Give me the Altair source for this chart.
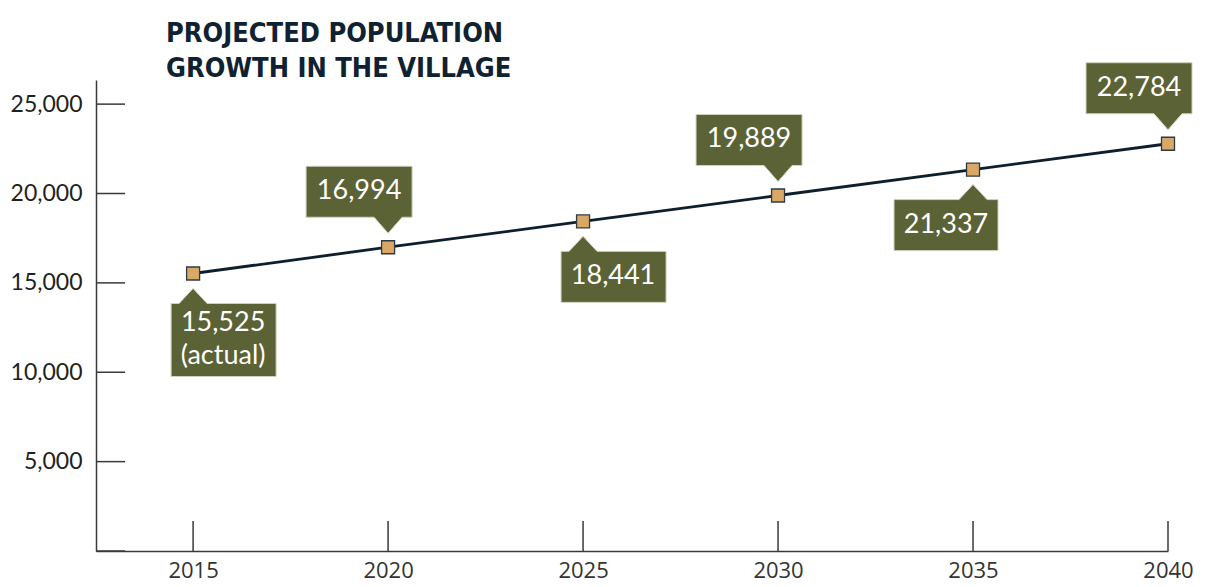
import altair as alt
import pandas as pd

# ---- data ----
years = [2015, 2020, 2025, 2030, 2035, 2040]
population = [15525, 16994, 18441, 19889, 21337, 22784]
labels = ["15,525\n(actual)", "16,994", "18,441", "19,889", "21,337", "22,784"]
y_tick_values = [0, 5000, 10000, 15000, 20000, 25000]
y_label_values = [5000, 10000, 15000, 20000, 25000]
x_tick_values = [2015, 2020, 2025, 2030, 2035, 2040]
title_lines = ["PROJECTED POPULATION", "GROWTH IN THE VILLAGE"]

df = pd.DataFrame({"year": years, "pop": population, "label": labels})

W, H = 1072, 471
xs = alt.Scale(domain=[2012.51, 2040], nice=False, zero=False)
ys = alt.Scale(domain=[0, 26350], nice=False)

OLIVE = "#5b6236"
AXIS = "#3a3a3a"

x_axis = alt.Axis(values=x_tick_values, labelExpr="format(datum.value, 'd')",
                  tickSize=0, title=None,
                  labelFont="Open Sans", labelFontSize=22, labelColor="#333333",
                  labelPadding=9, labelFlush=False, domainColor=AXIS,
                  domainWidth=1.5, grid=False)
y_axis = alt.Axis(values=y_label_values, labelExpr="format(datum.value, ',')",
                  tickSize=0, title=None,
                  labelFont="Lato", labelFontSize=23, labelColor="#231f20",
                  labelPadding=14, domainColor=AXIS, domainWidth=1.5, grid=False)

X = alt.X("year:Q", scale=xs, axis=x_axis)
Y = alt.Y("pop:Q", scale=ys, axis=y_axis)

base = alt.Chart(df)

line = base.mark_line(color="#0d1f2e", strokeWidth=2.8).encode(x=X, y=Y)

ytick = alt.Chart(pd.DataFrame({"pop": y_tick_values})).mark_rule(
    color=AXIS, strokeWidth=1.5).encode(y=Y, x=alt.value(0), x2=alt.value(29))
xtick = alt.Chart(pd.DataFrame({"year": x_tick_values})).mark_rule(
    color=AXIS, strokeWidth=1.5).encode(x=X, y=alt.value(H - 30), y2=alt.value(H))

squares = base.mark_square(size=169, filled=True, fill="#d9a766",
                           stroke="#2e3b47", strokeWidth=1.3, opacity=1).encode(x=X, y=Y)

# callout shapes (pixel units, size=4 -> scale 1)
BL1 = "M0,15 L14,30 L83,30 L83,81 L-22,81 L-22,30 L-14,30 Z"
BL2 = "M0,15 L14,30 L83,30 L83,103 L-22,103 L-22,30 L-14,30 Z"
BR = "M0,15 L14,30 L25,30 L25,81 L-79,81 L-79,30 L-14,30 Z"
AR = "M0,-14 L14,-30 L24,-30 L24,-81 L-82,-81 L-82,-30 L-14,-30 Z"


def callout(yrs, path, dx, dy):
    b = base.transform_filter(alt.FieldOneOfPredicate(field="year", oneOf=yrs))
    shp = b.mark_point(shape=path, size=4, filled=True, fill=OLIVE,
                       stroke="#cfd2bd", strokeWidth=1, opacity=1).encode(x=X, y=Y)
    txt = b.mark_text(dx=dx, dy=dy, color="white", font="Lato", fontSize=27,
                      lineBreak="\n", lineHeight=33).encode(x=X, y=Y, text="label:N")
    return [shp, txt]


layers = [ytick, xtick, line, squares]
layers += callout([2015], BL2, 30, 50)
layers += callout([2025], BL1, 30, 55)
layers += callout([2035], BR, -27, 55)
layers += callout([2020, 2030, 2040], AR, -29, -56)

title = alt.Chart(pd.DataFrame({"t": ["\n".join(title_lines)]})).mark_text(
    align="left", baseline="alphabetic", lineBreak="\n", lineHeight=35,
    font="DejaVu Sans Condensed, Liberation Sans Narrow, Roboto Condensed, Roboto, sans-serif",
    fontSize=27, fontWeight="bold",
    color="#0f2231").encode(text="t:N", x=alt.value(70), y=alt.value(-38))
layers.append(title)

chart = alt.layer(*layers).properties(
    width=W, height=H, autosize="none",
    padding={"left": 88, "top": 72, "right": 28, "bottom": 38},
    background="white",
).configure_view(stroke=None)

chart.save("out.html", embed_options={"renderer": "svg", "actions": False})
